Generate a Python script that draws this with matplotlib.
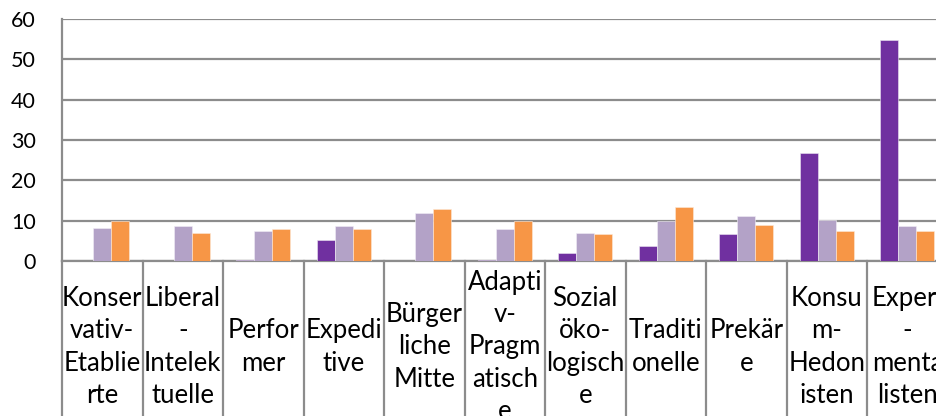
import matplotlib
matplotlib.use("Agg")
import matplotlib.pyplot as plt
import numpy as np

categories = ["Konser\nvativ-\nEtablie\nrte", "Liberal\n-\nIntelek\ntuelle", "Perfor\nmer",
              "Expedi\ntive", "Bürger\nliche\nMitte", "Adapti\nv-\nPragm\natisch\ne",
              "Sozial\nöko-\nlogisch\ne", "Traditi\nonelle", "Prekär\ne",
              "Konsu\nm-\nHedon\nisten", "Experi\n-\nmenta\nlisten"]
series_purple = [0, 0, 0.2, 5.2, 0, 0.2, 2.0, 3.8, 6.6, 26.9, 54.7]
series_lavender = [8.2, 8.6, 7.4, 8.8, 11.9, 7.9, 6.9, 10.0, 11.2, 10.2, 8.6]
series_orange = [9.9, 7.0, 7.9, 7.9, 12.9, 9.8, 6.7, 13.3, 8.9, 7.5, 7.5]
yticks = [0, 10, 20, 30, 40, 50, 60]

plt.rcParams['font.family'] = ['Lato', 'DejaVu Sans']

W, H = 936, 416
fig = plt.figure(figsize=(W / 100, H / 100), dpi=100)
left, right, top, bottom = 62, 947.5, 19, 261
ax = fig.add_axes([left / W, (H - bottom) / H, (right - left) / W, (bottom - top) / H])

x = np.arange(len(categories))
bw = 0.224
grid_c = "#8c8c8c"
ax.bar(x - bw, series_purple, bw, color="#7030A0", edgecolor="#ece6f2", linewidth=0.4, zorder=3)
ax.bar(x, series_lavender, bw, color="#B3A2C7", edgecolor="#f2eef6", linewidth=0.4, zorder=3)
ax.bar(x + bw, series_orange, bw, color="#F79646", edgecolor="#fde9d9", linewidth=0.4, zorder=3)

ax.set_xlim(-0.5, len(categories) - 0.5)
ax.set_ylim(0, 60)
ax.set_yticks(yticks)
ax.set_yticklabels([str(t) for t in yticks], fontsize=15.5)
ax.tick_params(axis='y', length=0, pad=19)
ax.set_xticks([])
ax.yaxis.grid(True, color=grid_c, linewidth=1.6, zorder=0)
ax.set_axisbelow(True)
for s in ["top", "right"]:
    ax.spines[s].set_visible(False)
ax.spines["bottom"].set_color(grid_c)
ax.spines["bottom"].set_linewidth(1.6)
ax.spines["left"].set_color(grid_c)
ax.spines["left"].set_linewidth(1.6)

tr = ax.get_xaxis_transform()
for b in np.arange(-0.5, len(categories), 1.0):
    ax.plot([b, b], [0, -0.7], transform=tr, color=grid_c, linewidth=1.6, clip_on=False)
for i, lab in enumerate(categories):
    ax.text(i, -0.355, lab, transform=tr, ha="center", va="center", fontsize=18.5,
            linespacing=1.36, color="#000000", clip_on=False)

fig.savefig("out.png", dpi=100)
